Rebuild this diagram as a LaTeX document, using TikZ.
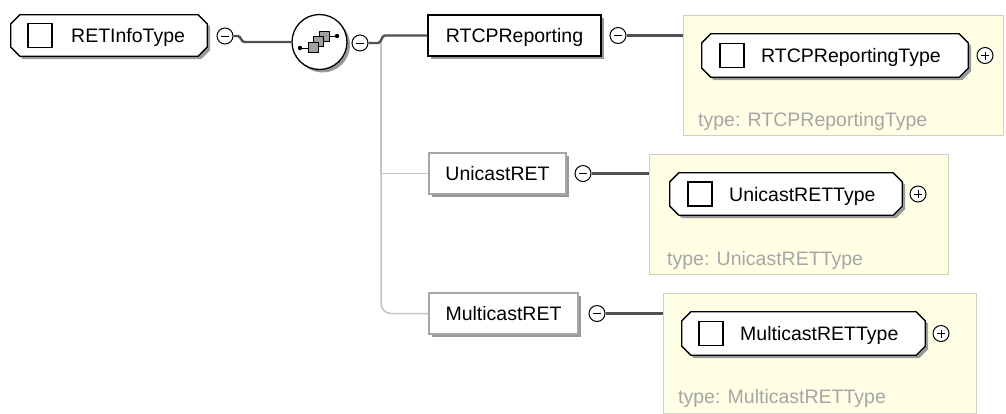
\documentclass[tikz,border=0pt]{standalone}
\usepackage{fontspec}
\setmainfont{Liberation Sans}
\usetikzlibrary{calc,shadows}
\pgfdeclarelayer{ylayer}
\pgfdeclarelayer{olayer}
\pgfsetlayers{ylayer,olayer,main}
\definecolor{ylw}{HTML}{FFFFE6}
\definecolor{ylwb}{HTML}{CFCFC0}
\definecolor{typetxt}{HTML}{A6A6A6}
\definecolor{connc}{HTML}{505050}
\definecolor{treec}{HTML}{C4C4C4}
\definecolor{sqfill}{HTML}{A0A0A0}
\newcommand\octshape[1]{%
  \draw[octline] ($(#1.north west)+(9,0)$) -- ($(#1.north east)+(-9,0)$) -- ($(#1.north east)+(0,9)$) -- ($(#1.south east)+(0,-9)$) -- ($(#1.south east)+(-9,0)$) -- ($(#1.south west)+(9,0)$) -- ($(#1.south west)+(0,-9)$) -- ($(#1.north west)+(0,9)$) -- cycle;}
\begin{document}
\begin{tikzpicture}[x=1pt,y=-1pt,
  font=\fontsize{19.5}{22}\selectfont,
  shd/.style={drop shadow={shadow xshift=3pt,shadow yshift=-3pt,fill=black!40,opacity=1}},
  octnode/.style={rectangle, draw=none, inner sep=0pt},
  octline/.style={draw=black, line width=1.3pt, fill=white, shd},
  sq/.style={rectangle, draw=black, line width=1.2pt, fill=white, minimum size=24pt, inner sep=0pt},
  lbl/.style={inner sep=0pt, anchor=base west},
  ttxt/.style={lbl, text=typetxt},
  collapse/.style={circle, draw=black, line width=1pt, fill=white, minimum size=16pt, inner sep=0pt,
    path picture={\draw[line width=1pt] ($(path picture bounding box.center)+(-4,0)$) -- ($(path picture bounding box.center)+(4,0)$);}},
  expand/.style={circle, draw=black, line width=1pt, fill=white, minimum size=16pt, inner sep=0pt,
    path picture={\draw[line width=1pt] ($(path picture bounding box.center)+(-4,0)$) -- ($(path picture bounding box.center)+(4,0)$);
                  \draw[line width=1pt] ($(path picture bounding box.center)+(0,-4)$) -- ($(path picture bounding box.center)+(0,4)$);}},
  elbox/.style={rectangle, fill=white, inner sep=0pt, text height=14pt, text depth=0pt, minimum height=41pt, shd},
  reqbox/.style={elbox, draw=black, line width=1.5pt},
  optbox/.style={elbox, draw=black!35, line width=1.2pt},
  ybox/.style={rectangle, fill=ylw, draw=ylwb, line width=1pt, inner sep=0pt},
  seqc/.style={circle, draw=black, line width=1.3pt, fill=white, minimum size=55pt, inner sep=0pt, shd},
  sqi/.style={fill=sqfill, draw=black, line width=0.9pt},
  conn/.style={draw=connc, line width=2.4pt},
  tree/.style={draw=treec, line width=1.5pt}]
\begin{pgfonlayer}{ylayer}
  \fill[white] (0,0) rectangle (1006,406);
  \node[ybox, minimum width=320pt, minimum height=120pt] (yr) at (843,75) {};
  \node[ybox, minimum width=299pt, minimum height=120pt] (yu) at (798.5,214) {};
  \node[ybox, minimum width=313pt, minimum height=120pt] (ym) at (819.5,353) {};
\end{pgfonlayer}
\useasboundingbox (0,0) rectangle (1006,406);

% root
\node[octnode, minimum width=196pt, minimum height=41pt] (ret) at (109,35.5) {};
\node[sq] (retsq) at (40,35.5) {};
\node[lbl] (rett) at (71,42.5) {RETInfoType};
\node[collapse] (c1) at (225,36) {};

% sequence
\node[seqc] (seq) at (319.5,42) {};
\begin{scope}[shift={(seq.center)}]
  \draw[line width=1pt] (-19.5,6) -- (-11.5,6);
  \fill (-19.5,6) circle (2.2);
  \draw[line width=1pt] (9.5,-6) -- (17.5,-6);
  \fill (17.5,-6) circle (2.2);
  \draw[sqi] (-0.5,-11) rectangle (9.5,-1);
  \draw[sqi] (-6.5,-5.5) rectangle (3.5,4.5);
  \draw[sqi] (-11.5,0.5) rectangle (-1.5,10.5);
\end{scope}
\node[collapse] (c2) at (360,43) {};
\coordinate (tr) at (381,43);

% children
\node[reqbox, minimum width=173pt] (rtcp) at (514.5,35.5) {RTCPReporting};
\node[optbox, minimum width=137pt] (uni) at (497.5,173.5) {UnicastRET};
\node[optbox, minimum width=149pt] (mul) at (503.5,313.5) {MulticastRET};
\node[collapse] (cr) at (618,35.5) {};
\node[collapse] (cu) at (583,173.5) {};
\node[collapse] (cm) at (597,313.5) {};

% type boxes
\node[octnode, minimum width=266pt, minimum height=43pt] (otr) at (835,55.5) {};
\node[sq] (otrsq) at (732,55.5) {};
\node[lbl] (otrt) at (761,62.5) {RTCPReportingType};
\node[expand] (er) at (985,55.5) {};
\node[ttxt] (tyr) at (698,126) {type: RTCPReportingType};

\node[octnode, minimum width=232pt, minimum height=42pt] (otu) at (786,194) {};
\node[sq] (otusq) at (700,194) {};
\node[lbl] (otut) at (729,201) {UnicastRETType};
\node[expand] (eu) at (918,194) {};
\node[ttxt] (tyu) at (667,265) {type: UnicastRETType};

\node[octnode, minimum width=243pt, minimum height=43pt] (otm) at (803.5,333.5) {};
\node[sq] (otmsq) at (711,333.5) {};
\node[lbl] (otmt) at (740,340.5) {MulticastRETType};
\node[expand] (em) at (941,333.5) {};
\node[ttxt] (tym) at (678,403) {type: MulticastRETType};

\begin{pgfonlayer}{olayer}
  \octshape{ret}
  \octshape{otr}
  \octshape{otu}
  \octshape{otm}
\end{pgfonlayer}

% connectors
\draw[conn] (c1.east) -- ++(4,0) to[out=0,in=180] ++(7,6) -- (seq.west);
\draw[tree] (tr) |- (uni.west);
\draw[tree, rounded corners=10pt] (tr) |- (mul.west);
\draw[conn] (c2.east) -- ($(tr)+(-3,0)$) to[out=0,in=180] ($(tr |- rtcp.west)+(4,0)$) -- (rtcp.west);
\draw[conn] (cr.east) -- (cr.east -| yr.west);
\draw[conn] (cu.east) -- (cu.east -| yu.west);
\draw[conn] (cm.east) -- (cm.east -| ym.west);
\end{tikzpicture}
\end{document}
